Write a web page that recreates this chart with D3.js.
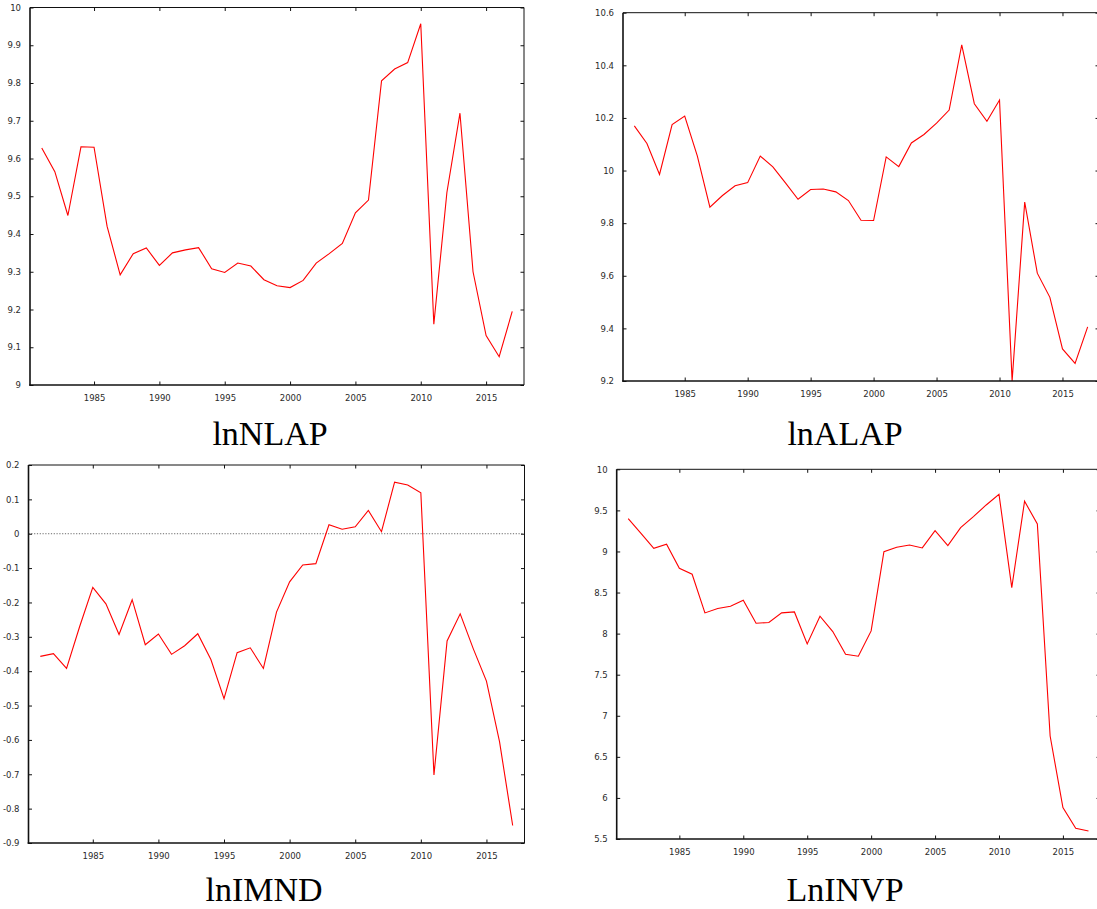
<!DOCTYPE html>
<html>
<head>
<meta charset="utf-8">
<script src="https://cdn.jsdelivr.net/npm/d3@7/dist/d3.min.js"></script>
<style>
  html, body { margin: 0; padding: 0; background: #fff; }
  svg { display: block; }
</style>
</head>
<body>
<svg id="chart" width="1097" height="909"></svg>
<script>
// ---- data ----
const years = d3.range(1981, 2018);
const xTicks = [1985, 1990, 1995, 2000, 2005, 2010, 2015];

const lnNLAP = [9.628, 9.565, 9.449, 9.631, 9.630, 9.420, 9.292, 9.348, 9.363, 9.317,
  9.350, 9.358, 9.364, 9.308, 9.298, 9.323, 9.315, 9.279, 9.263, 9.258,
  9.277, 9.323, 9.348, 9.375, 9.456, 9.490, 9.806, 9.837, 9.854, 9.957,
  9.161, 9.510, 9.720, 9.300, 9.131, 9.075, 9.195];
const lnNLAPTicks = [9, 9.1, 9.2, 9.3, 9.4, 9.5, 9.6, 9.7, 9.8, 9.9, 10];

const lnALAP = [10.170, 10.103, 9.985, 10.175, 10.207, 10.056, 9.861, 9.905, 9.942, 9.954,
  10.055, 10.014, 9.953, 9.891, 9.928, 9.930, 9.919, 9.886, 9.811, 9.810,
  10.052, 10.015, 10.105, 10.137, 10.180, 10.230, 10.478, 10.254, 10.187, 10.268,
  9.200, 9.880, 9.610, 9.518, 9.322, 9.267, 9.406];
const lnALAPTicks = [9.2, 9.4, 9.6, 9.8, 10, 10.2, 10.4, 10.6];

const lnIMND = [-0.357, -0.349, -0.392, -0.270, -0.156, -0.204, -0.293, -0.192, -0.323, -0.292,
  -0.351, -0.326, -0.291, -0.366, -0.480, -0.346, -0.332, -0.392, -0.228, -0.140,
  -0.091, -0.087, 0.026, 0.013, 0.020, 0.068, 0.006, 0.150, 0.142, 0.119,
  -0.702, -0.312, -0.233, -0.335, -0.429, -0.606, -0.849];
const lnIMNDTicks = [-0.9, -0.8, -0.7, -0.6, -0.5, -0.4, -0.3, -0.2, -0.1, 0, 0.1, 0.2];

const LnINVP = [9.400, 9.221, 9.039, 9.088, 8.796, 8.723, 8.252, 8.305, 8.333, 8.406,
  8.127, 8.135, 8.252, 8.264, 7.875, 8.212, 8.025, 7.749, 7.725, 8.033,
  8.998, 9.051, 9.079, 9.043, 9.254, 9.071, 9.290, 9.424, 9.566, 9.696,
  8.560, 9.611, 9.335, 6.754, 5.882, 5.631, 5.598];
const LnINVPTicks = [5.5, 6, 6.5, 7, 7.5, 8, 8.5, 9, 9.5, 10];

const titles = ["lnNLAP", "lnALAP", "lnIMND", "LnINVP"];

// ---- layout ----
const panels = [
  { values: lnNLAP, ticks: lnNLAPTicks, title: titles[0], box: [30, 7.5, 524, 385], titleX: 270, titleY: 445, zero: false },
  { values: lnALAP, ticks: lnALAPTicks, title: titles[1], box: [623, 12.7, 1099, 381], titleX: 845, titleY: 445, zero: false },
  { values: lnIMND, ticks: lnIMNDTicks, title: titles[2], box: [28.5, 465, 524.5, 843], titleX: 264, titleY: 901, zero: true },
  { values: LnINVP, ticks: LnINVPTicks, title: titles[3], box: [616.7, 469.3, 1100, 839], titleX: 845, titleY: 901, zero: false }
];

const svg = d3.select("#chart");
const fmt = v => String(+v.toFixed(2));
const TL = 3.5;

panels.forEach(p => {
  const [x0, y0, x1, y1] = p.box;
  const ticks = p.ticks;
  const x = d3.scaleLinear().domain([1980.1, 2017.9]).range([x0, x1]);
  const y = d3.scaleLinear().domain([ticks[0], ticks[ticks.length - 1]]).range([y1, y0]);
  const g = svg.append("g");

  if (p.zero) {
    g.append("line")
      .attr("x1", x0).attr("x2", x1)
      .attr("y1", y(0)).attr("y2", y(0))
      .attr("stroke", "#444").attr("stroke-width", 0.8)
      .attr("stroke-dasharray", "1.2,1.6");
  }

  g.append("path")
    .datum(years.map((yr, i) => [yr, p.values[i]]))
    .attr("fill", "none")
    .attr("stroke", "#ff0000")
    .attr("stroke-width", 1.1)
    .attr("d", d3.line().x(d => x(d[0])).y(d => y(d[1])));

  const bottom = d3.axisBottom(x).tickValues(xTicks).tickSize(-TL).tickPadding(10).tickFormat(d3.format("d"));
  const gb = g.append("g").attr("transform", `translate(0,${y1})`).call(bottom);
  gb.select(".domain").remove();
  const top = d3.axisTop(x).tickValues(xTicks).tickSize(-TL).tickFormat("");
  const gt = g.append("g").attr("transform", `translate(0,${y0})`).call(top);
  gt.select(".domain").remove();
  const left = d3.axisLeft(y).tickValues(ticks).tickSize(-TL).tickPadding(9).tickFormat(fmt);
  const gl = g.append("g").attr("transform", `translate(${x0},0)`).call(left);
  gl.select(".domain").remove();
  const right = d3.axisRight(y).tickValues(ticks).tickSize(-TL).tickFormat("");
  const gr = g.append("g").attr("transform", `translate(${x1},0)`).call(right);
  gr.select(".domain").remove();

  g.selectAll(".tick line").attr("stroke", "#111").attr("stroke-width", 1);
  g.selectAll(".tick text")
    .attr("font-family", "DejaVu Sans, sans-serif")
    .attr("font-size", "8.5px")
    .attr("fill", "#2a2a2a");

  g.append("line").attr("x1", x0).attr("x2", x1).attr("y1", y0).attr("y2", y0)
    .attr("stroke", "#111").attr("stroke-width", 1);
  g.append("line").attr("x1", x1).attr("x2", x1).attr("y1", y0).attr("y2", y1)
    .attr("stroke", "#111").attr("stroke-width", 1);
  g.append("line").attr("x1", x0).attr("x2", x0).attr("y1", y0).attr("y2", y1 + 0.75)
    .attr("stroke", "#111").attr("stroke-width", 1.6);
  g.append("line").attr("x1", x0 - 0.8).attr("x2", x1).attr("y1", y1).attr("y2", y1)
    .attr("stroke", "#111").attr("stroke-width", 1.6);

  svg.append("text")
    .attr("x", p.titleX).attr("y", p.titleY)
    .attr("text-anchor", "middle")
    .attr("font-family", "Liberation Serif, Times New Roman, serif")
    .attr("font-size", "34px")
    .attr("fill", "#000")
    .text(p.title);
});
</script>
</body>
</html>
